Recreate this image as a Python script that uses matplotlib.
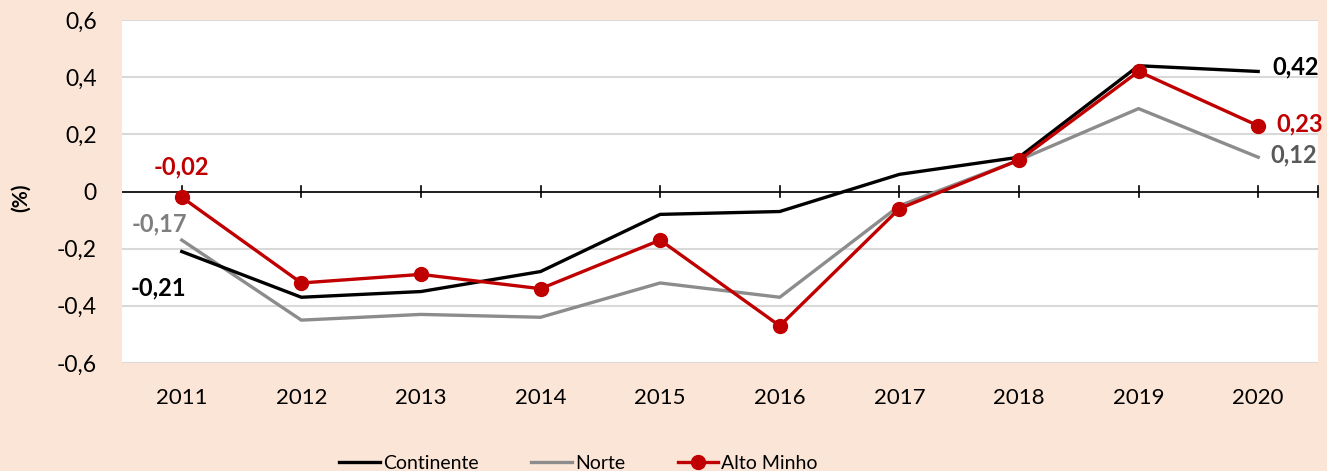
import matplotlib.pyplot as plt
import numpy as np

plt.rcParams['font.family'] = ['Lato', 'DejaVu Sans']

# Data
years = ['2011', '2012', '2013', '2014', '2015', '2016', '2017', '2018', '2019', '2020']
continente = [-0.21, -0.37, -0.35, -0.28, -0.08, -0.07, 0.06, 0.12, 0.44, 0.42]
norte = [-0.17, -0.45, -0.43, -0.44, -0.32, -0.37, -0.05, 0.11, 0.29, 0.12]
alto_minho = [-0.02, -0.32, -0.29, -0.34, -0.17, -0.47, -0.06, 0.11, 0.42, 0.23]
y_ticks = [-0.6, -0.4, -0.2, 0, 0.2, 0.4, 0.6]

bg = '#FBE5D6'
red = '#C00000'
grey = '#8C8C8C'

fig = plt.figure(figsize=(13.27, 4.71), dpi=100)
fig.patch.set_facecolor(bg)
ax = fig.add_axes([0.0919, 0.2293, 0.9013, 0.7282])
ax.set_facecolor('white')

x = np.arange(len(years))
ax.plot(x, continente, color='black', lw=2.4, label='Continente', zorder=3)
ax.plot(x, norte, color=grey, lw=2.4, label='Norte', zorder=2)
ax.plot(x, alto_minho, color=red, lw=2.4, marker='o', markersize=10, label='Alto Minho', zorder=4)

ax.set_xlim(-0.5, len(years) - 0.5)
ax.set_ylim(-0.6, 0.6)
ax.set_yticks(y_ticks)
ax.set_yticklabels([('%g' % v).replace('.', ',') for v in y_ticks], fontsize=16.5)
ax.grid(axis='y', color='#D9D9D9', lw=1.5, zorder=0)
ax.set_axisbelow(True)
for s in ax.spines.values():
    s.set_visible(False)
ax.tick_params(axis='y', length=0, pad=18)

# category axis along zero
ax.axhline(0, color='black', lw=1.2, zorder=1)
ax.set_xticks([])
for xv in list(x) + [len(years) - 0.5]:
    ax.plot([xv, xv], [-0.02, 0.02], color='black', lw=1.2, zorder=1, clip_on=False)
for xv, yr in zip(x, years):
    ax.annotate(yr, (xv, -0.6), xytext=(0, -25), textcoords='offset points',
                ha='center', va='center', fontsize=16)

# y axis title
fig.text(21 / 1327, 1 - 198 / 471, '(%)', rotation=90, ha='center', va='center',
         fontsize=15, fontweight='bold')

# data labels
def lab(xv, yv, text, color, dx, dy, ha):
    ax.annotate(text, (xv, yv), xytext=(dx, dy), textcoords='offset points',
                ha=ha, va='center', fontsize=17, fontweight='bold', color=color)

lab(0, alto_minho[0], '-0,02', red, 0, 22, 'center')
lab(0, norte[0], '-0,17', '#7F7F7F', -16, 12, 'center')
lab(0, continente[0], '-0,21', 'black', -17, -26, 'center')
lab(9, continente[9], '0,42', 'black', 10, 3, 'left')
lab(9, alto_minho[9], '0,23', red, 13, 1, 'left')
lab(9, norte[9], '0,12', '#595959', 9, 2, 'left')

leg = fig.legend(loc='center', bbox_to_anchor=(0.436, 0.016), ncol=3, frameon=False,
                 fontsize=14, handlelength=2.1, handletextpad=0.15, columnspacing=2.7)

fig.savefig('out.png', dpi=100, facecolor=bg)
